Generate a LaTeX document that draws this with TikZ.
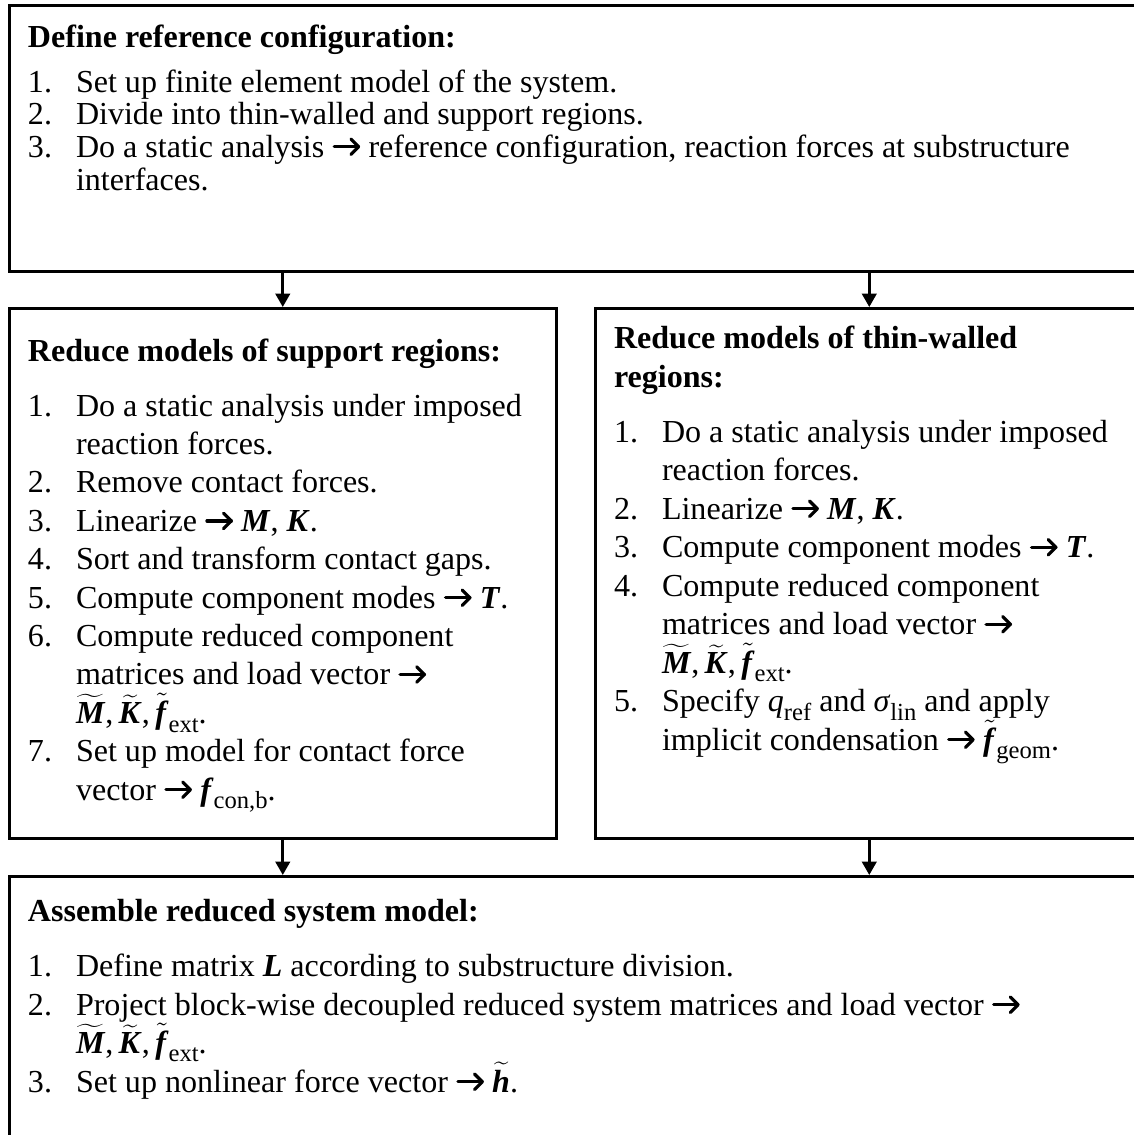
\documentclass[tikz,border=0pt]{standalone}
\usepackage{fontspec}
\usepackage{pict2e}
\setmainfont{Liberation Serif}
\usetikzlibrary{arrows.meta}
\newcommand\bi[1]{\textbf{\textit{#1}}}
\newcommand\wt[1]{$\widetilde{\hbox{\bi{#1}}}$}
\newcommand\nt[1]{$\tilde{\hbox{\bi{#1}}}$}
\newcommand\sbs[1]{\raisebox{-0.28em}{\fontsize{9.6}{10}\selectfont #1}}
\newcommand\rarr{{\setlength{\unitlength}{0.01em}\begin{picture}(88,60)\roundcap\roundjoin\linethickness{0.1em}\put(6,32){\line(1,0){76}}\put(82,32){\line(-1,1){24}}\put(82,32){\line(-1,-1){24}}\end{picture}}}
\newcommand\tline[4]{\node[txt] (#1) at (#2,#3) {#4};}
\begin{document}
\begin{tikzpicture}[x=0.39pt,y=-0.39pt,
  box/.style={draw, line width=1pt, rectangle, anchor=north west, inner sep=0pt},
  txt/.style={anchor=base west, inner sep=0pt, outer sep=0pt, font=\fontsize{12.5}{15}\selectfont},
  arr/.style={line width=1.1pt, -{Triangle[width=5.6pt,length=5.2pt]}}]
\path[use as bounding box] (0,0) rectangle (1134,1135);
\clip (0,0) rectangle (1134,1135);
% boxes
\node[box, minimum width={1134*0.39pt}, minimum height={266*0.39pt}] (B1) at (8,4) {};
\node[box, minimum width={547*0.39pt}, minimum height={530*0.39pt}] (B2) at (8,307) {};
\node[box, minimum width={548*0.39pt}, minimum height={530*0.39pt}] (B3) at (594,307) {};
\node[box, minimum width={1134*0.39pt}, minimum height={300*0.39pt}] (B4) at (8,875) {};
% arrows
\draw[arr] (B2.north |- B1.south) -- (B2.north);
\draw[arr] (B3.north |- B1.south) -- (B3.north);
\draw[arr] (B2.south) -- (B2.south |- B4.north);
\draw[arr] (B3.south) -- (B3.south |- B4.north);
% top box
\tline{a0}{28}{47}{\bfseries Define reference configuration:}
\tline{a1n}{28}{92}{1.}\tline{a1t}{76}{92}{Set up finite element model of the system.}
\tline{a2n}{28}{124.5}{2.}\tline{a2t}{76}{124.5}{Divide into thin-walled and support regions.}
\tline{a3n}{28}{157}{3.}\tline{a3t}{76}{157}{Do a static analysis \rarr{} reference configuration, reaction forces at substructure}
\tline{a3c}{76}{190}{interfaces.}
% left box
\tline{b0}{28}{361}{\bfseries Reduce models of support regions:}
\tline{b1n}{28}{416}{1.}\tline{b1t}{76}{416}{Do a static analysis under imposed}
\tline{b1c}{76}{454.4}{reaction forces.}
\tline{b2n}{28}{492.8}{2.}\tline{b2t}{76}{492.8}{Remove contact forces.}
\tline{b3n}{28}{531.2}{3.}\tline{b3t}{76}{531.2}{Linearize \rarr{} \bi{M}, \bi{K}.}
\tline{b4n}{28}{569.6}{4.}\tline{b4t}{76}{569.6}{Sort and transform contact gaps.}
\tline{b5n}{28}{608}{5.}\tline{b5t}{76}{608}{Compute component modes \rarr{} \bi{T}.}
\tline{b6n}{28}{646.4}{6.}\tline{b6t}{76}{646.4}{Compute reduced component}
\tline{b6c}{76}{684.8}{matrices and load vector \rarr}
\tline{b6d}{76}{723.2}{\wt{M},\,\wt{K},\,\nt{f}\sbs{ext}.}
\tline{b7n}{28}{761.6}{7.}\tline{b7t}{76}{761.6}{Set up model for contact force}
\tline{b7c}{76}{800}{vector \rarr{} \bi{f}\sbs{con,b}.}
% right box
\tline{c0}{614}{348}{\bfseries Reduce models of thin-walled}
\tline{c0b}{614}{387}{\bfseries regions:}
\tline{c1n}{614}{442}{1.}\tline{c1t}{662}{442}{Do a static analysis under imposed}
\tline{c1c}{662}{480.5}{reaction forces.}
\tline{c2n}{614}{519}{2.}\tline{c2t}{662}{519}{Linearize \rarr{} \bi{M}, \bi{K}.}
\tline{c3n}{614}{557.5}{3.}\tline{c3t}{662}{557.5}{Compute component modes \rarr{} \bi{T}.}
\tline{c4n}{614}{596}{4.}\tline{c4t}{662}{596}{Compute reduced component}
\tline{c4c}{662}{634.5}{matrices and load vector \rarr}
\tline{c4d}{662}{673}{\wt{M},\,\wt{K},\,\nt{f}\sbs{ext}.}
\tline{c5n}{614}{711.5}{5.}\tline{c5t}{662}{711.5}{Specify \textit{q}\sbs{ref} and \textit{σ}\sbs{lin} and apply}
\tline{c5c}{662}{750}{implicit condensation \rarr{} \nt{f}\sbs{geom}.}
% bottom box
\tline{d0}{28}{921}{\bfseries Assemble reduced system model:}
\tline{d1n}{28}{976}{1.}\tline{d1t}{76}{976}{Define matrix \bi{L} according to substructure division.}
\tline{d2n}{28}{1015}{2.}\tline{d2t}{76}{1015}{Project block-wise decoupled reduced system matrices and load vector \rarr}
\tline{d2c}{76}{1053}{\wt{M},\,\wt{K},\,\nt{f}\sbs{ext}.}
\tline{d3n}{28}{1092}{3.}\tline{d3t}{76}{1092}{Set up nonlinear force vector \rarr{} \wt{h}.}
\end{tikzpicture}
\end{document}
